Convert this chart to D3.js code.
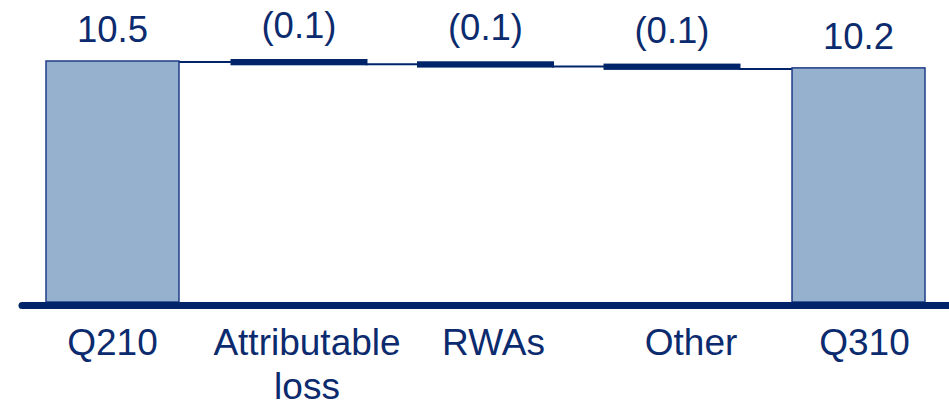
<!DOCTYPE html>
<html>
<head>
<meta charset="utf-8">
<script src="https://cdn.jsdelivr.net/npm/d3@7"></script>
<style>
  html, body { margin: 0; padding: 0; background: #fff; }
  svg { display: block; }
  text { font-family: "Liberation Sans", Arial, sans-serif; fill: #0c2b6e; }
</style>
</head>
<body>
<svg id="chart" width="949" height="407"></svg>
<script>
// Capital ratio bridge, Q210 to Q310 (%)
const categories = ["Q210", "Attributable\nloss", "RWAs", "Other", "Q310"];
const kinds = ["total", "delta", "delta", "delta", "total"];
const values = [10.5, -0.1, -0.1, -0.1, 10.2];
const valueLabels = ["10.5", "(0.1)", "(0.1)", "(0.1)", "10.2"];

// small horizontal nudges for the category captions
const captionShift = [0, 8, 8, 19, 6];

const W = 949, H = 407;
const navy = "#002469";
const barFill = "#95b1cd";
const barStroke = "#1f3c88";

const svg = d3.select("#chart");

const x = d3.scaleBand()
  .domain(categories)
  .range([46, 925])
  .paddingInner(0.287)
  .paddingOuter(0);

const y = d3.scaleLinear().domain([0, 10.5]).range([302, 61]);

// running totals for the waterfall
let running = 0;
const steps = categories.map((c, i) => {
  let start, end;
  if (kinds[i] === "total") { start = 0; end = values[i]; running = values[i]; }
  else { start = running; end = running + values[i]; running = end; }
  return { cat: c, kind: kinds[i], start, end, label: valueLabels[i], i };
});

// connectors between consecutive steps
for (let i = 0; i < steps.length - 1; i++) {
  const level = steps[i].end;
  svg.append("line")
    .attr("x1", x(steps[i].cat) + x.bandwidth())
    .attr("x2", x(steps[i + 1].cat))
    .attr("y1", y(level) + 1)
    .attr("y2", y(level) + 1)
    .attr("stroke", navy)
    .attr("stroke-width", 2);
}

// total bars
svg.selectAll("rect.total")
  .data(steps.filter(d => d.kind === "total"))
  .join("rect")
  .attr("class", "total")
  .attr("x", d => x(d.cat))
  .attr("width", x.bandwidth())
  .attr("y", d => y(Math.max(d.start, d.end)))
  .attr("height", d => Math.abs(y(d.start) - y(d.end)))
  .attr("fill", barFill)
  .attr("stroke", barStroke)
  .attr("stroke-width", 1.5);

// floating delta bars
svg.selectAll("rect.delta")
  .data(steps.filter(d => d.kind === "delta"))
  .join("rect")
  .attr("class", "delta")
  .attr("x", d => x(d.cat))
  .attr("width", x.bandwidth())
  .attr("y", d => y(Math.max(d.start, d.end)))
  .attr("height", d => Math.abs(y(d.start) - y(d.end)))
  .attr("fill", navy)
  .attr("stroke", navy)
  .attr("stroke-width", 4);

// value labels
svg.selectAll("text.value")
  .data(steps)
  .join("text")
  .attr("class", "value")
  .attr("x", d => x(d.cat) + x.bandwidth() / 2)
  .attr("y", d => y(Math.max(d.start, d.end)) - (d.kind === "total" ? 19 : 23))
  .attr("text-anchor", "middle")
  .attr("font-size", 36.5)
  .text(d => d.label);

// baseline
svg.append("line")
  .attr("x1", 22)
  .attr("x2", W + 5)
  .attr("y1", y(0) + 3.5)
  .attr("y2", y(0) + 3.5)
  .attr("stroke", navy)
  .attr("stroke-width", 7)
  .attr("stroke-linecap", "round");

// category captions
const cap = svg.selectAll("text.cat")
  .data(categories)
  .join("text")
  .attr("class", "cat")
  .attr("text-anchor", "middle")
  .attr("font-size", 37)
  .attr("transform", (d, i) => `translate(${x(d) + x.bandwidth() / 2 + captionShift[i]},355)`);

cap.selectAll("tspan")
  .data(d => d.split("\n"))
  .join("tspan")
  .attr("x", 0)
  .attr("dy", (d, i) => i === 0 ? 0 : 44)
  .text(d => d);
</script>
</body>
</html>
